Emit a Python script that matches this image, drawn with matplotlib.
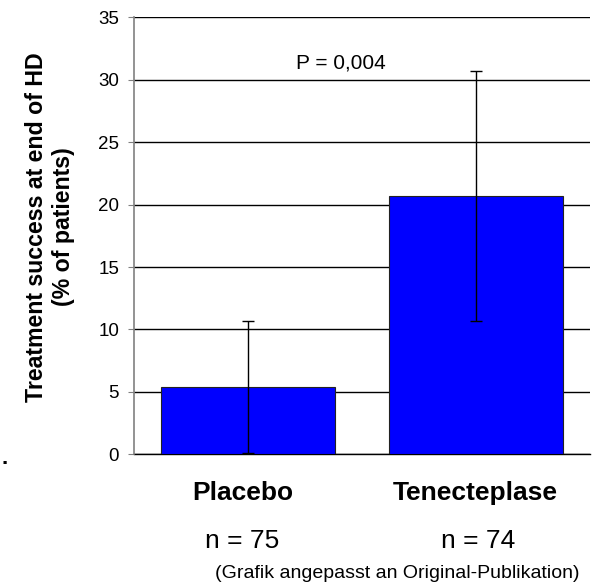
import matplotlib
matplotlib.use("Agg")
import matplotlib.pyplot as plt
import numpy as np

categories = ["Placebo", "Tenecteplase"]
values = [5.37, 20.68]
ci_low = [0.1, 10.68]
ci_high = [10.68, 30.7]
n_labels = ["n = 75", "n = 74"]
p_text = "P = 0,004"
y_ticks = [0, 5, 10, 15, 20, 25, 30, 35]

plt.rcParams['font.family'] = ['Liberation Sans', 'DejaVu Sans']

W, H = 595, 586
fig = plt.figure(figsize=(W / 100, H / 100), dpi=100)
ax = fig.add_axes([133.7 / W, 1 - 454.3 / H, (590 - 133.7) / W, (454.3 - 17.3) / H])

x = np.arange(len(categories))
vals = np.array(values)
yerr = np.array([vals - np.array(ci_low), np.array(ci_high) - vals])

ax.set_axisbelow(True)
ax.bar(x, vals, width=0.765, color="#0000FF", edgecolor="#222222", linewidth=0.8, zorder=2)
ax.errorbar(x, vals, yerr=yerr, fmt="none", ecolor="black", elinewidth=1.0,
            capsize=4.3, capthick=1.0, zorder=3)

ax.set_xlim(-0.5, 1.5)
ax.set_ylim(0, 35)
ax.set_yticks(y_ticks)
ax.set_yticklabels([str(t) for t in y_ticks], fontsize=13.5)
ax.yaxis.grid(True, color="black", linewidth=1.0)
ax.tick_params(axis="y", direction="out", length=4, width=0.8, color="#808080", pad=6.5)
ax.set_xticks([])
for s in ["top", "right", "bottom"]:
    ax.spines[s].set_visible(False)
ax.spines["left"].set_color("#808080")
ax.spines["left"].set_linewidth(1.2)
ax.axhline(0, color="black", linewidth=1.0, zorder=1, clip_on=False)

def ftext(px, py, s, **kw):
    fig.text(px / W, 1 - py / H, s, ha="center", va="center", **kw)

ftext(341, 63, p_text, fontsize=15)
cat_px = [243, 475]
n_px = [242, 478]
for cx, lab in zip(cat_px, categories):
    ftext(cx, 493, lab, fontsize=19, fontweight="bold")
for cx, lab in zip(n_px, n_labels):
    ftext(cx, 541, lab, fontsize=19)
ftext(397, 573, "(Grafik angepasst an Original-Publikation)", fontsize=14)
ftext(50, 227, "Treatment success at end of HD\n(% of patients)", fontsize=16.7,
      fontweight="bold", rotation=90, linespacing=1.25)
ftext(5, 458, ".", fontsize=16, fontweight="bold")

fig.savefig("out.png", dpi=100)
